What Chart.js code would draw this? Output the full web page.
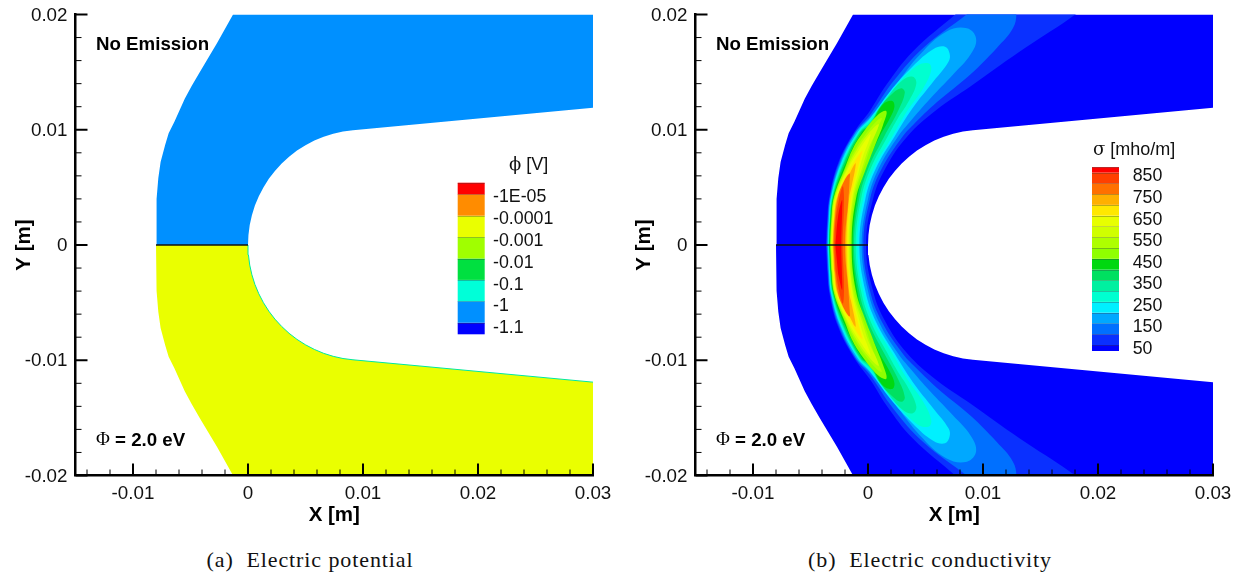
<!DOCTYPE html>
<html>
<head>
<meta charset="utf-8">
<title>Electric potential and conductivity</title>
<script src="https://cdn.jsdelivr.net/npm/chart.js@4"></script>
<style>
  html, body { margin: 0; padding: 0; background: #fff; }
  #page { position: relative; width: 1241px; height: 573px; overflow: hidden; }
  .panel { position: absolute; top: 0; width: 620px; height: 540px; }
  .caption { position: absolute; top: 547px; font: 22px "Liberation Serif", serif; letter-spacing: 0.9px; color: #111; white-space: nowrap; transform: translateX(-50%); }
</style>
</head>
<body>
<div id="page">
  <div class="panel" style="left:0"><canvas id="potentialChart" width="620" height="540"></canvas></div>
  <div class="panel" style="left:620px"><canvas id="conductivityChart" width="620" height="540"></canvas></div>
  <div class="caption" style="left:310px">(a)&nbsp; Electric potential</div>
  <div class="caption" style="left:930px">(b)&nbsp; Electric conductivity</div>
</div>

<script>
// Axis ticks
const xMajorTicks = [-0.01, 0, 0.01, 0.02, 0.03];
const xMinorTicks = [-0.014, -0.012, -0.008, -0.006, -0.004, -0.002, 0.002, 0.004, 0.006, 0.008, 0.012, 0.014, 0.016, 0.018, 0.022, 0.024, 0.026, 0.028];
const yMajorTicks = [-0.02, -0.01, 0, 0.01, 0.02];
const yMinorTicks = [-0.018, -0.016, -0.014, -0.012, -0.008, -0.006, -0.004, -0.002, 0.002, 0.004, 0.006, 0.008, 0.012, 0.014, 0.016, 0.018];

// Upper half of the body outline (the lower half is its mirror)
const outerEdge = [[-0.008, 0], [-0.00798, 0.002], [-0.00792, 0.004], [-0.0078, 0.0058], [-0.0076, 0.0072], [-0.0072, 0.0087], [-0.0069, 0.0097], [-0.0064, 0.0107], [-0.0055, 0.0127], [-0.0049, 0.0138], [-0.0042, 0.015], [-0.0027, 0.0175], [-0.0013, 0.02]];
const farEdge = [[0.03, 0.02], [0.03, 0.0119]];
const wallEdge = [[0.00913, 0.00996], [0.00826, 0.00985], [0.00741, 0.00966], [0.00658, 0.0094], [0.00577, 0.00906], [0.005, 0.00866], [0.00426, 0.00819], [0.00357, 0.00766], [0.00293, 0.00707], [0.00234, 0.00643], [0.00181, 0.00574], [0.00134, 0.005], [0.00094, 0.00423], [0.0006, 0.00342], [0.00034, 0.00259], [0.00015, 0.00174], [0.00004, 0.00087], [0, 0]];
const stagnationLine = [[-0.008, 0], [0, 0]];

// Conductivity contours, upper half, outer side -> tip -> wall side
const contour100 = [[-0.00365, 0], [-0.00355, 0.0021], [-0.00335, 0.0042], [-0.0026, 0.0071], [-0.0012, 0.0098], [0.0002, 0.0117], [0.0016, 0.0139], [0.0039, 0.0168], [0.0077, 0.0201], [0.0082, 0.0206], [0.0186, 0.0206], [0.0176, 0.0197], [0.0132, 0.0168], [0.00887, 0.01374], [0.00597, 0.01174], [0.0034, 0.0094], [0.00154, 0.0067], [0.00044, 0.004], [-0.00017, 0]];
const contour150 = [[-0.00359, 0], [-0.0035, 0.0021], [-0.0033, 0.0042], [-0.00252, 0.0071], [-0.0011, 0.0098], [0.0002, 0.0113], [0.0022, 0.0142], [0.0048, 0.0171], [0.0087, 0.0201], [0.0092, 0.0206], [0.0126, 0.0206], [0.0129, 0.0201], [0.0126, 0.0188], [0.0112, 0.0171], [0.0089, 0.0148], [0.006, 0.0124], [0.0039, 0.0104], [0.003, 0.0094], [0.00123, 0.0067], [0.00018, 0.004], [-0.0004, 0]];
const contour200 = [[-0.00354, 0], [-0.00345, 0.0021], [-0.00325, 0.0042], [-0.00243, 0.0071], [-0.00104, 0.0098], [0.0002, 0.0111], [0.0025, 0.014], [0.0045, 0.0165], [0.0068, 0.0185], [0.0086, 0.0188], [0.0094, 0.0179], [0.0089, 0.0165], [0.0074, 0.0148], [0.0054, 0.0127], [0.00365, 0.0107], [0.0026, 0.0094], [0.00096, 0.0067], [0, 0.004], [-0.00055, 0]];
const contour250 = [[-0.00348, 0], [-0.0034, 0.0021], [-0.0032, 0.0042], [-0.00235, 0.0071], [-0.0009, 0.0098], [0.0002, 0.011], [0.0019, 0.0133], [0.0039, 0.0155], [0.0057, 0.017], [0.0067, 0.0172], [0.0071, 0.0166], [0.007, 0.0159], [0.0057, 0.0142], [0.0039, 0.0119], [0.0023, 0.0094], [0.00071, 0.0067], [-0.00023, 0.004], [-0.00075, 0]];
const contour300 = [[-0.00345, 0], [-0.00336, 0.0021], [-0.00315, 0.0042], [-0.00226, 0.0071], [-0.00082, 0.0098], [0.0002, 0.0109], [0.0022, 0.0135], [0.0042, 0.0155], [0.00525, 0.01577], [0.0055, 0.0152], [0.0048, 0.0136], [0.0034, 0.0116], [0.0021, 0.0094], [0.00052, 0.0067], [-0.00041, 0.004], [-0.00093, 0]];
const contour350 = [[-0.00342, 0], [-0.00333, 0.0021], [-0.0031, 0.0042], [-0.00217, 0.0071], [-0.00074, 0.0098], [0.0002, 0.0107], [0.0016, 0.0127], [0.003, 0.0143], [0.0039, 0.0146], [0.0042, 0.014], [0.0035, 0.0124], [0.0026, 0.011], [0.0017, 0.0094], [0.00026, 0.0067], [-0.0006, 0.004], [-0.00107, 0]];
const contour400 = [[-0.0034, 0], [-0.0033, 0.0021], [-0.00305, 0.0042], [-0.00209, 0.0071], [-0.00065, 0.0098], [0.0002, 0.0105], [0.001, 0.0119], [0.0022, 0.0132], [0.0029, 0.0136], [0.0032, 0.0132], [0.0026, 0.0116], [0.0014, 0.0094], [0.00004, 0.0067], [-0.00077, 0.004], [-0.00122, 0]];
const contour450 = [[-0.00336, 0], [-0.00326, 0.0021], [-0.003, 0.0042], [-0.00195, 0.0071], [-0.00052, 0.0098], [0.0002, 0.0104], [0.0013, 0.0122], [0.0021, 0.0125], [0.0023, 0.012], [0.0019, 0.011], [0.001, 0.0094], [-0.00021, 0.0067], [-0.00093, 0.004], [-0.00133, 0]];
const contour500 = [[-0.0033, 0], [-0.0032, 0.0021], [-0.00295, 0.0042], [-0.002, 0.0067], [-0.0013, 0.0084], [-0.0004, 0.0098], [0.00087, 0.0113], [0.0016, 0.0116], [0.0013, 0.0104], [0.00075, 0.009], [0.0002, 0.0076], [-0.00015, 0.0067], [-0.00105, 0.004], [-0.00142, 0]];
const contour550 = [[-0.00325, 0], [-0.00315, 0.0021], [-0.0029, 0.0042], [-0.0019, 0.0067], [-0.0011, 0.0083], [-0.0003, 0.0095], [0.0008, 0.0108], [0.0012, 0.011], [0.001, 0.0105], [0.0004, 0.009], [-0.0001, 0.0075], [-0.00118, 0.004], [-0.0015, 0]];
const contour600 = [[-0.00322, 0], [-0.00312, 0.0021], [-0.00285, 0.0042], [-0.0018, 0.0067], [-0.001, 0.0082], [-0.0001, 0.0095], [0.0009, 0.0105], [0.0008, 0.01], [0.0001, 0.0085], [-0.0004, 0.007], [-0.0013, 0.004], [-0.00159, 0]];
const contour650 = [[-0.00319, 0], [-0.00308, 0.0021], [-0.0028, 0.0042], [-0.0017, 0.0067], [-0.0008, 0.0082], [0.0002, 0.0096], [0.0001, 0.0091], [-0.0004, 0.0078], [-0.0008, 0.0064], [-0.00138, 0.004], [-0.00168, 0]];
const contour700 = [[-0.00313, 0], [-0.00302, 0.0021], [-0.0027, 0.0042], [-0.0015, 0.0067], [-0.0005, 0.0082], [-0.0006, 0.0077], [-0.0009, 0.0066], [-0.00148, 0.004], [-0.00177, 0]];
const contour750 = [[-0.00307, 0], [-0.00296, 0.0021], [-0.00265, 0.0042], [-0.0017, 0.006], [-0.0011, 0.0071], [-0.0011, 0.0067], [-0.0014, 0.0052], [-0.00165, 0.004], [-0.00188, 0]];
const contour800 = [[-0.00301, 0], [-0.0029, 0.0021], [-0.0026, 0.0042], [-0.0021, 0.0055], [-0.0016, 0.0062], [-0.0016, 0.0056], [-0.0017, 0.004], [-0.002, 0]];
const contour850 = [[-0.00293, 0], [-0.00282, 0.0021], [-0.00255, 0.0038], [-0.0022, 0.0051], [-0.0021, 0.0045], [-0.0021, 0.003], [-0.0022, 0]];
const contour875 = [[-0.00284, 0], [-0.0026, 0.0025], [-0.00226, 0.0039], [-0.00225, 0.003], [-0.00232, 0]];

const sigmaContours = [contour100, contour150, contour200, contour250, contour300, contour350, contour400, contour450, contour500, contour550, contour600, contour650, contour700, contour750, contour800, contour850, contour875];

// Legends
const sigmaLabels = ["850", "750", "650", "550", "450", "350", "250", "150", "50"];
const sigmaColors = ["#0000ff", "#0a30ff", "#0070ff", "#00a8ff", "#00f0ff", "#00ffd0", "#00f0a0", "#00e060", "#00d810", "#90ff00", "#aeff00", "#d0ff00", "#e8ff00", "#ffe800", "#ffb000", "#ff7000", "#ff4000", "#ff0000"];
const phiLabels = ["-1E-05", "-0.0001", "-0.001", "-0.01", "-0.1", "-1", "-1.1"];
const phiColors = ["#0000ff", "#0090ff", "#00ffd8", "#00e040", "#a0ff00", "#eaff00", "#ff8c00", "#ff0000"];
const phiUpperColor = "#0090ff";
const phiLowerColor = "#eaff00";
const phiWallColor = "#00e8a0";

const SANS = '"Liberation Sans", Arial, sans-serif';

function toPoints(list) {
    return list.map(p => ({ x: p[0], y: p[1] }));
}

function mirrored(list) {
    return list.map(p => [p[0], -p[1]]);
}

// Outer side, far end, wall: one closed half of the body
function bodyHalf(sign) {
    const half = outerEdge.concat(farEdge, wallEdge);
    return sign > 0 ? half : mirrored(half);
}

// Contour closed across y = 0 with its mirror image
function closedContour(list) {
    const lower = mirrored(list).slice(1, -1).reverse();
    return list.concat(lower);
}

function shape(list, color, order, tension) {
    return {
        data: toPoints(list),
        showLine: true,
        fill: "shape",
        backgroundColor: color,
        borderColor: color,
        borderWidth: 0,
        pointRadius: 0,
        tension: tension || 0,
        order: order
    };
}

function line(list, color, width, order) {
    return {
        data: toPoints(list),
        showLine: true,
        fill: false,
        borderColor: color,
        borderWidth: width,
        pointRadius: 0,
        order: order
    };
}

// Inward major and minor ticks on both axes
const inwardTicks = {
    id: "inwardTicks",
    afterDraw(chart) {
        const ctx = chart.ctx;
        const x = chart.scales.x, y = chart.scales.y;
        const area = chart.chartArea;
        ctx.save();
        ctx.strokeStyle = "#000";
        function xTick(v, len, w) {
            const px = x.getPixelForValue(v);
            ctx.lineWidth = w;
            ctx.beginPath(); ctx.moveTo(px, area.bottom); ctx.lineTo(px, area.bottom - len); ctx.stroke();
        }
        function yTick(v, len, w) {
            const py = y.getPixelForValue(v);
            ctx.lineWidth = w;
            ctx.beginPath(); ctx.moveTo(area.left, py); ctx.lineTo(area.left + len, py); ctx.stroke();
        }
        xMajorTicks.forEach(v => xTick(v, 12, 2));
        xMinorTicks.forEach(v => xTick(v, 6, 1));
        yMajorTicks.forEach(v => yTick(v, 12, 2));
        yMinorTicks.forEach(v => yTick(v, 6, 1));
        ctx.restore();
    }
};

// Notes and contour legend; bar runs bottom to top through the colour list
function notesAndLegend(cfg) {
    return {
        id: "notesAndLegend",
        afterDraw(chart) {
            const ctx = chart.ctx;
            ctx.save();
            ctx.fillStyle = "#000";
            ctx.textBaseline = "middle";
            ctx.textAlign = "left";

            ctx.font = "bold 18.7px " + SANS;
            ctx.fillText("No Emission", 96, 44.5);
            ctx.font = '19px "Liberation Serif", serif';
            ctx.fillText("\u03A6", 96, 440.5);
            const w = ctx.measureText("\u03A6").width;
            ctx.font = "bold 18.7px " + SANS;
            ctx.fillText(" = 2.0 eV", 96 + w, 440.5);

            // colour bar
            let bottom = cfg.barBottom;
            cfg.colors.forEach((c, i) => {
                const h = cfg.bandHeight(i);
                ctx.fillStyle = c;
                ctx.fillRect(cfg.barLeft, bottom - h, cfg.barWidth, h);
                ctx.strokeStyle = "rgba(60,60,60,0.35)";
                ctx.lineWidth = 1;
                ctx.beginPath();
                ctx.moveTo(cfg.barLeft, Math.round(bottom - h) + 0.5);
                ctx.lineTo(cfg.barLeft + cfg.barWidth, Math.round(bottom - h) + 0.5);
                ctx.stroke();
                bottom -= h;
            });

            ctx.fillStyle = "#111";
            ctx.font = "17.8px " + SANS;
            cfg.labels.forEach((t, i) => {
                ctx.fillText(t, cfg.labelLeft, cfg.labelTop + i * cfg.labelStep);
            });

            ctx.font = '18px "DejaVu Serif", serif';
            ctx.fillText(cfg.symbol, cfg.titleLeft, cfg.titleY);
            const sw = ctx.measureText(cfg.symbol).width;
            ctx.font = "18px " + SANS;
            ctx.fillText(cfg.unit, cfg.titleLeft + sw, cfg.titleY);
            ctx.restore();
        }
    };
}

function makeChart(canvasId, datasets, legendCfg) {
    return new Chart(document.getElementById(canvasId), {
        type: "scatter",
        data: { datasets: datasets },
        plugins: [inwardTicks, notesAndLegend(legendCfg)],
        options: {
            responsive: false,
            animation: false,
            layout: { padding: { left: 0, right: 27, top: 14.5, bottom: 0 } },
            plugins: { legend: { display: false }, tooltip: { enabled: false } },
            scales: {
                x: {
                    type: "linear",
                    min: -0.015,
                    max: 0.03,
                    afterFit(scale) { scale.height = 64.5; scale.paddingLeft = 0; scale.paddingRight = 0; },
                    afterBuildTicks(scale) { scale.ticks = xMajorTicks.map(v => ({ value: v })); },
                    grid: { display: false, drawTicks: false },
                    border: { display: true, color: "#000", width: 2.5, z: 1 },
                    ticks: { color: "#111", font: { family: SANS, size: 18.8 }, padding: 7, maxRotation: 0, autoSkip: false, callback: v => String(v) },
                    title: { display: true, text: "X [m]", color: "#000", font: { family: SANS, size: 20.5, weight: "bold" }, padding: { top: 0, bottom: 12.7 } }
                },
                y: {
                    type: "linear",
                    min: -0.02,
                    max: 0.02,
                    afterFit(scale) { scale.width = 75.5; scale.paddingTop = 0; scale.paddingBottom = 0; },
                    afterBuildTicks(scale) { scale.ticks = yMajorTicks.map(v => ({ value: v })); },
                    grid: { display: false, drawTicks: false },
                    border: { display: true, color: "#000", width: 2.5, z: 1 },
                    ticks: { color: "#111", font: { family: SANS, size: 18.8 }, padding: 8, labelOffset: 1, autoSkip: false, callback: v => String(v) },
                    title: { display: true, text: "Y [m]", color: "#000", font: { family: SANS, size: 20.5, weight: "bold" }, padding: { top: 12, bottom: 0 } }
                }
            }
        }
    });
}

// (a) potential: two flat halves, thin layer on the lower wall
makeChart("potentialChart", [
    shape(bodyHalf(1), phiUpperColor, 3),
    shape(bodyHalf(-1), phiLowerColor, 2),
    line(mirrored([farEdge[1]].concat(wallEdge)), phiWallColor, 1, 1),
    line(stagnationLine, "#111", 1.5, 0)
], {
    colors: phiColors,
    labels: phiLabels,
    barLeft: 457.7, barWidth: 27, barBottom: 334.3,
    bandHeight: i => (i === 0 || i === 7) ? 11.6 : 21.4,
    labelLeft: 493, labelTop: 197.5, labelStep: 21.8,
    symbol: "\u03D5", unit: " [V]", titleLeft: 509, titleY: 165
});

// (b) conductivity: blue body, nested contours painted lowest level first
const sigmaSets = [
    shape(bodyHalf(1), sigmaColors[0], 100),
    shape(bodyHalf(-1), sigmaColors[0], 99)
];
sigmaContours.forEach((c, i) => {
    sigmaSets.push(shape(closedContour(c), sigmaColors[i + 1], 50 - i, 0.4));
});
sigmaSets.push(line(stagnationLine, "#111", 1.5, 0));

makeChart("conductivityChart", sigmaSets, {
    colors: sigmaColors,
    labels: sigmaLabels,
    barLeft: 472, barWidth: 27, barBottom: 351,
    bandHeight: i => i === 0 ? 6 : (i === 17 ? 5.4 : 10.78),
    labelLeft: 512.7, labelTop: 176.5, labelStep: 21.58,
    symbol: "\u03C3", unit: " [mho/m]", titleLeft: 473, titleY: 150
});
</script>
</body>
</html>
